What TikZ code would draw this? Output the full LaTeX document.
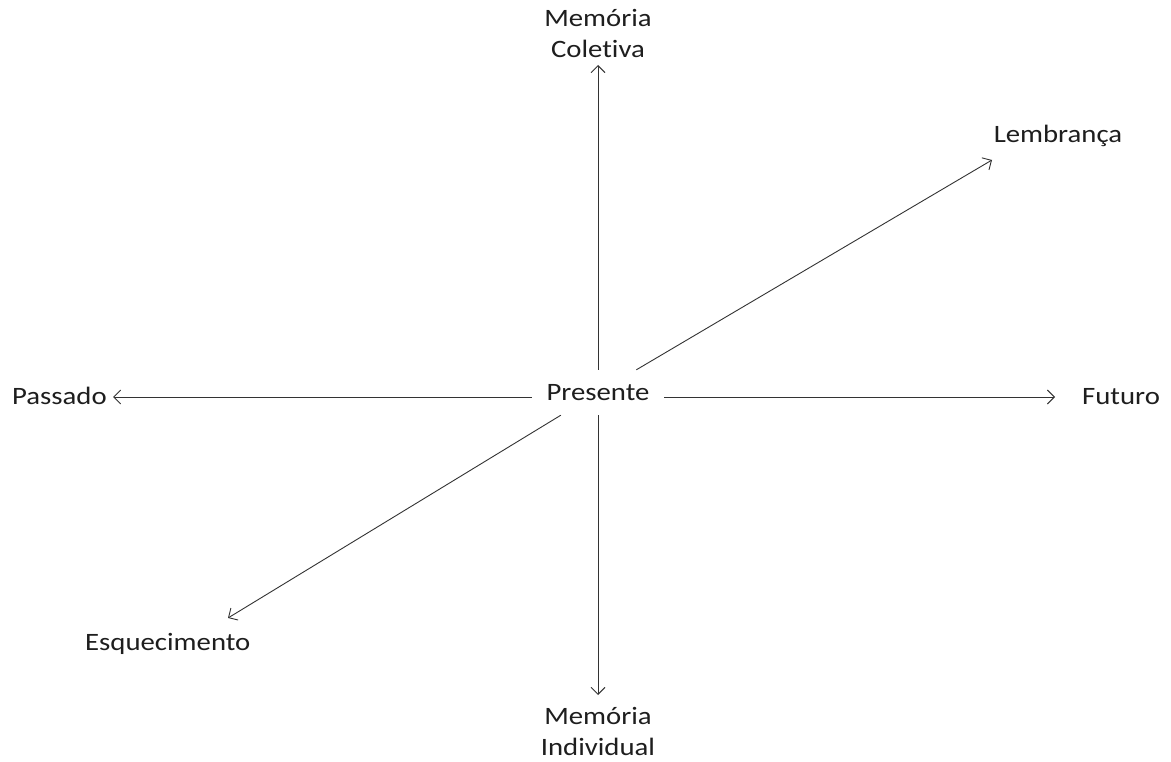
\documentclass[tikz,border=0pt]{standalone}
\usepackage{fontspec}
\setmainfont{Carlito}[FakeStretch=1.15,Ligatures=NoCommon]
\usetikzlibrary{arrows.meta}
\definecolor{ink}{HTML}{1E1E1E}
\definecolor{linec}{HTML}{333333}
\begin{document}
\begin{tikzpicture}[x=1pt,y=-1pt,
  lbl/.style={inner sep=0pt,text=ink,font=\fontsize{25}{31}\selectfont},
  conn/.style={draw=linec,line width=0.9pt,-{Straight Barb[length=7pt,width=14pt]}}]
\useasboundingbox (0,0) rectangle (1171,762);
\fill[white] (0,0) rectangle (1171,762);
% centre
\node[lbl,minimum width=132pt,minimum height=45pt] (P) at (598,392.5) {Presente};
% labels
\node[lbl,anchor=base,align=center] (MC) at (598,58) {Memória\\Coletiva};
\node[lbl,anchor=base,align=center] (MI) at (598,755) {Memória\\Individual};
\node[lbl,anchor=base] (L) at (1058,143) {Lembrança};
\node[lbl,anchor=base west] (Pa) at (12,404) {Passado};
\node[lbl,anchor=base west] (F) at (1082,404) {Futuro};
\node[lbl,anchor=base west] (E) at (85,650) {Esquecimento};
% arrow tips
\coordinate (MCtip) at (598,65);
\coordinate (MItip) at (598,695);
\coordinate (Ltip) at (992,160);
\coordinate (Etip) at (228,618);
\coordinate (Patip) at (113,397);
\coordinate (Ftip) at (1055,397);
% connectors
\draw[conn] (P.north) -- (MCtip);
\draw[conn] (P.south) -- (MItip);
\draw[conn] (P) -- (Ltip);
\draw[conn] (P) -- (Etip);
\draw[conn] (P.west |- Patip) -- (Patip);
\draw[conn] (P.east |- Ftip) -- (Ftip);
\end{tikzpicture}
\end{document}
